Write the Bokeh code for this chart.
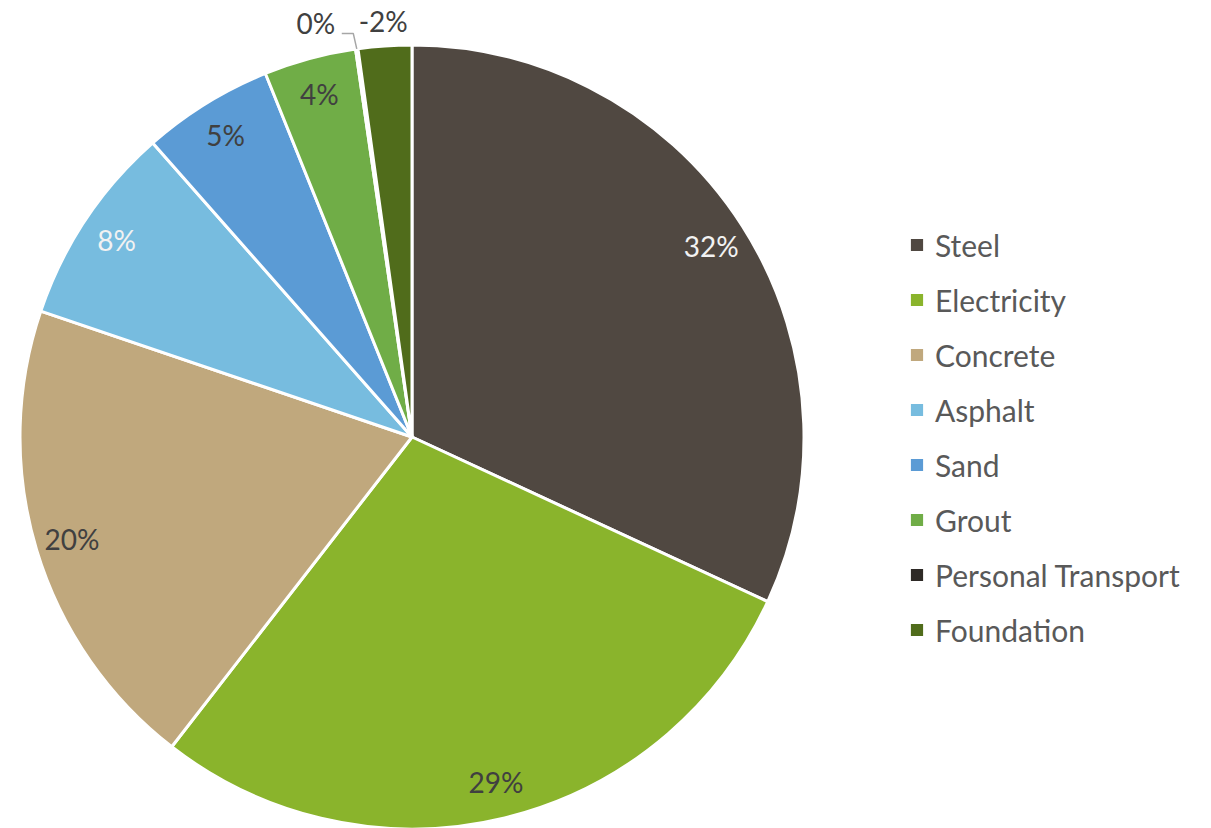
import math
from bokeh.plotting import figure
from bokeh.models import ColumnDataSource, Range1d
from bokeh.core.properties import value
from bokeh.embed import file_html
from bokeh.resources import INLINE

categories = ["Steel", "Electricity", "Concrete", "Asphalt", "Sand", "Grout",
              "Personal Transport", "Foundation"]
values = [31.9, 28.6, 19.7, 8.3, 5.4, 3.8, 0.1, -2.2]
colors = ["#504841", "#8AB42C", "#C0A87D", "#77BCDF", "#5B9BD5", "#70AD47",
          "#2E2A26", "#506C1B"]
label_colors = ["#F2F2F2", "#404040", "#404040", "#F2F2F2", "#404040", "#404040",
                "#404040", "#404040"]

W, H = 1211, 828
FONT = "Lato"

p = figure(width=W, height=H, output_backend="svg", toolbar_location=None,
           x_range=Range1d(0, W), y_range=Range1d(0, H), min_border=0)
p.axis.visible = False
p.grid.visible = False
p.outline_line_color = None
p.background_fill_color = "white"
p.border_fill_color = "white"

cx, cy, R = 411.5, 391.5, 392

total = sum(abs(v) for v in values)
fr = [abs(v) / total for v in values]
starts, ends, mids = [], [], []
c = 0.0
for f in fr:
    c0, c1 = c, c + f
    starts.append(math.pi / 2 - 2 * math.pi * c1)
    ends.append(math.pi / 2 - 2 * math.pi * c0)
    mids.append(math.pi / 2 - 2 * math.pi * (c0 + c1) / 2)
    c = c1

labels = ["%d%%" % round(v / total * 100) for v in values]
labels = [("0%" if l in ("-0%", "0%") else l) for l in labels]

src = ColumnDataSource(dict(category=categories, start=starts, end=ends,
                            color=colors, x=[cx] * len(values), y=[cy] * len(values)))
p.wedge(x="x", y="y", radius=R, start_angle="start", end_angle="end",
        fill_color="color", line_color="white", line_width=3, source=src,
        legend_field="category")

# data labels
lx, ly = [], []
for i, (m, f) in enumerate(zip(mids, fr)):
    rr = 355 if f >= 0.03 else 417
    lx.append(cx + rr * math.cos(m))
    ly.append(cy + rr * math.sin(m))

# "Personal Transport" label is pulled out to the left with a leader line
pt = categories.index("Personal Transport")
ex = cx + R * math.cos(mids[pt])
ey = cy + R * math.sin(mids[pt])
lx[pt] = ex - 41
ly[pt] = ey + 26
p.line(x=[ex - 15, ex - 3.5, ex], y=[ey + 15.5, ey + 15.5, ey],
       line_color="#A6A6A6", line_width=1.5)

lsrc = ColumnDataSource(dict(x=lx, y=ly, text=labels, color=label_colors))
p.text(x="x", y="y", text="text", text_color="color", source=lsrc,
       text_align="center", text_baseline="middle",
       text_font=value(FONT), text_font_size="28px")

leg = p.legend[0]
leg.location = (907, 171)
leg.orientation = "vertical"
leg.border_line_color = None
leg.background_fill_alpha = 0
leg.padding = 0
leg.margin = 0
leg.spacing = 0
leg.label_height = 55
leg.glyph_height = 19
leg.glyph_width = 19
leg.label_standoff = 9
leg.label_text_font = FONT
leg.label_text_font_size = "30px"
leg.label_text_color = "#595959"
leg.label_text_baseline = "middle"

open("out.html", "w").write(file_html(p, INLINE))
